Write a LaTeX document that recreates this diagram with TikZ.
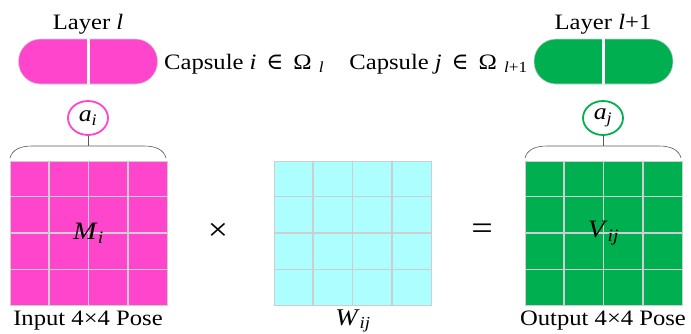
\documentclass[tikz,border=0pt]{standalone}
\usepackage{fontspec}
\setmainfont{Liberation Serif}[FakeStretch=1.12]
\newfontfamily\symf{DejaVu Serif}
\usetikzlibrary{shapes.geometric,calc}
\definecolor{pinkc}{RGB}{255,69,204}
\definecolor{greenc}{RGB}{0,176,80}
\definecolor{cyanc}{RGB}{173,254,254}
\definecolor{gridc}{RGB}{205,205,210}
\definecolor{bracec}{RGB}{90,90,90}
\begin{document}
\begin{tikzpicture}[x=1pt,y=-1pt,
  pill/.style={rounded corners=22pt,minimum width=139pt,minimum height=45pt,inner sep=0pt,draw=gridc,line width=0.6pt},
  act/.style={ellipse,fill=white,line width=1.8pt,minimum width=40pt,minimum height=34pt,inner sep=0pt},
  mat/.style={minimum width=157pt,minimum height=144pt,inner sep=0pt,draw=gridc,line width=1pt},
  lbl/.style={font=\fontsize{22}{24}\selectfont,inner sep=0pt},
  brc/.style={draw=bracec,line width=0.6pt},
]
\useasboundingbox (0,0) rectangle (691,333);
% pills
\node[pill,fill=pinkc] (pillL) at (88,61.5) {};
\node[pill,fill=greenc] (pillR) at (603.5,61.5) {};
\draw[white,line width=3pt] (pillL.north) -- (pillL.south);
\draw[white,line width=3pt] (pillR.north) -- (pillR.south);
\node[lbl] (layL) at (88,24) {Layer \textit{l}};
\node[lbl] (layR) at (603,24) {Layer \textit{l}+1};
\node[lbl,anchor=west] (capI) at (164,64) {Capsule \textit{i}\, {\symf\fontsize{23}{24}\selectfont ∈}\, Ω\,\,\textsubscript{\textit{l}}};
\node[lbl,anchor=east] (capJ) at (528,64) {Capsule \textit{j}\, {\symf\fontsize{23}{24}\selectfont ∈}\, Ω\,\,\textsubscript{\textit{l}+1}};
% activations
\node[act,draw=pinkc] (ai) at (88,118) {\fontsize{23}{24}\selectfont\textit{a}\textsubscript{\textit{i}}};
\node[act,draw=greenc] (aj) at (603,118) {\fontsize{23}{24}\selectfont\textit{a}\textsubscript{\textit{j}}};
\coordinate (bL) at (88,146);
\coordinate (bR) at (603,146);
\draw[brc] (ai.south) -- (bL);
\draw[brc] (aj.south) -- (bR);
\draw[brc] (10,158) .. controls (12,150) and (20,146) .. (32,146) -- (144,146) .. controls (156,146) and (164,150) .. (166,158);
\draw[brc] (525,158) .. controls (527,150) and (535,146) .. (547,146) -- (659,146) .. controls (671,146) and (679,150) .. (681,158);
% matrices
\node[mat,fill=pinkc] (matM) at (88.5,233) {};
\node[mat,fill=cyanc] (matW) at (352.5,233) {};
\node[mat,fill=greenc] (matV) at (603.5,233) {};
\foreach \m in {matM,matW,matV}{
  \foreach \f in {0.25,0.5,0.75}{
    \draw[gridc,line width=1.4pt] ($(\m.north west)!\f!(\m.north east)$) -- ($(\m.south west)!\f!(\m.south east)$);
    \draw[gridc,line width=1.4pt] ($(\m.north west)!\f!(\m.south west)$) -- ($(\m.north east)!\f!(\m.south east)$);
  }
}
\node[lbl,font=\fontsize{25}{26}\selectfont] (mi) at (matM) {\textit{M}\textsubscript{\textit{i}}};
\node[lbl,font=\fontsize{25}{26}\selectfont] (vij) at (matV) {\textit{V}\textsubscript{\textit{ij}}};
\node[lbl,font=\fontsize{32}{34}\selectfont] (times) at (218,232) {×};
\node[lbl,font=\fontsize{34}{36}\selectfont] (eq) at (482,232) {=};
\node[lbl] (inp) at (88,321) {Input 4×4 Pose};
\node[lbl,font=\fontsize{24}{26}\selectfont] (wij) at (353,321) {\textit{W}\textsubscript{\textit{ij}}};
\node[lbl] (out) at (603,321) {Output 4×4 Pose};
\end{tikzpicture}
\end{document}
